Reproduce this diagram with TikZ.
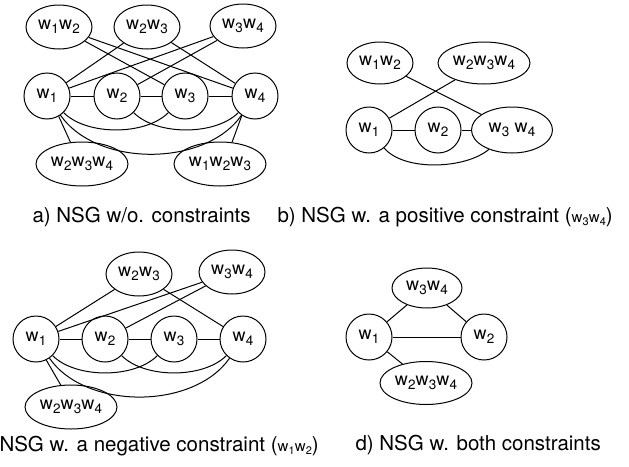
\documentclass[tikz,border=0pt]{standalone}
\usepackage{fontspec}
\setmainfont{TeX Gyre Heros}
\usetikzlibrary{shapes.geometric}
\newcommand{\ww}[1]{w\kern0.3pt\raisebox{-4.5pt}{\fontsize{13.5}{14}\selectfont #1}}
\newcommand{\cw}[1]{w\kern0.2pt\raisebox{-3.5pt}{\fontsize{11}{12}\selectfont #1}}
\begin{document}
\begin{tikzpicture}[x=1pt,y=-1pt,line width=1pt,
  lbl/.style={font=\fontsize{18}{20}\selectfont},
  circ/.style={circle,draw,minimum size=46pt,inner sep=0pt,lbl},
  ell/.style={ellipse,draw,minimum width=66pt,minimum height=44pt,inner sep=0pt,lbl},
  wide/.style={ell,minimum width=92pt},
  captext/.style={anchor=base west,inner sep=0pt,font=\fontsize{20.5}{24}\selectfont}]
\useasboundingbox (0,0) rectangle (629,466);
% ---------- a ----------
\node[ell]  (a12) at (59,27)  {\ww{1}\ww{2}};
\node[ell]  (a23) at (147,27) {\ww{2}\ww{3}};
\node[ell]  (a34) at (243,26) {\ww{3}\ww{4}};
\node[circ] (a1)  at (47,96)  {\ww{1}};
\node[circ] (a2)  at (117,96) {\ww{2}};
\node[circ] (a3)  at (185,96) {\ww{3}};
\node[circ] (a4)  at (255,96) {\ww{4}};
\node[wide] (a234) at (82,164) {\ww{2}\ww{3}\ww{4}};
\node[wide] (a123) at (220,164) {\ww{1}\ww{2}\ww{3}};
\draw (a12) -- (a3);
\draw (a12) -- (a4);
\draw (a23) -- (a1);
\draw (a23) -- (a4);
\draw (a34) -- (a1);
\draw (a34) -- (a2);
\draw (a1) -- (a2);
\draw (a2) -- (a3);
\draw (a3) -- (a4);
\draw (a1) to[out=-45,in=-135,looseness=0.8] (a3);
\draw (a2) to[out=-45,in=-135,looseness=0.8] (a4);
\draw (a1) to[out=-55,in=-125,looseness=0.9] (a4);
\draw (a1.-60) -- (a234.118);
\draw (a4.-124) -- (a123.61);
\node[captext] (capa) at (32,222) {a) NSG w/o. constraints};
% ---------- b ----------
\node[ell,minimum height=42pt]  (b12) at (380,63) {\ww{1}\ww{2}};
\node[wide,minimum height=42pt] (b234) at (484,63) {\ww{2}\ww{3}\ww{4}};
\node[circ] (b1) at (369,130) {\ww{1}};
\node[circ] (b2) at (438,130) {\ww{2}};
\node[ell,minimum width=81pt,minimum height=46pt] (b34) at (512,130) {\ww{3} \ww{4}};
\draw (b12) -- (b34);
\draw (b234) -- (b1);
\draw (b1) -- (b2);
\draw (b2) -- (b34);
\draw (b1) to[out=-50,in=-140,looseness=0.75] (b34);
\node[captext] (capb) at (277,222) {b) NSG w. a positive constraint ({\fontsize{15}{16}\selectfont\cw{3}\cw{4}})};
% ---------- c ----------
\node[ell]  (c23) at (139,274) {\ww{2}\ww{3}};
\node[ell]  (c34) at (232,272) {\ww{3}\ww{4}};
\node[circ] (c1)  at (36,339)  {\ww{1}};
\node[circ] (c2)  at (105,339) {\ww{2}};
\node[circ] (c3)  at (174,339) {\ww{3}};
\node[circ] (c4)  at (243,339) {\ww{4}};
\node[wide] (c234) at (71,407) {\ww{2}\ww{3}\ww{4}};
\draw (c23) -- (c1);
\draw (c23) -- (c4);
\draw (c34) -- (c1);
\draw (c34) -- (c2);
\draw (c1) -- (c2);
\draw (c2) -- (c3);
\draw (c3) -- (c4);
\draw (c1) to[out=-45,in=-135,looseness=0.8] (c3);
\draw (c2) to[out=-45,in=-135,looseness=0.8] (c4);
\draw (c1) to[out=-55,in=-125,looseness=0.9] (c4);
\draw (c1.-64) -- (c234.115);
\node[captext] (capc) at (-1,451) {NSG w. a negative constraint ({\fontsize{15}{16}\selectfont\cw{1}\cw{2}})};
% ---------- d ----------
\node[ell,minimum width=70pt,minimum height=40pt] (d34) at (427,288) {\ww{3}\ww{4}};
\node[circ] (d1) at (369,337) {\ww{1}};
\node[circ] (d2) at (484,337) {\ww{2}};
\node[wide,minimum height=43pt] (d234) at (426,383) {\ww{2}\ww{3}\ww{4}};
\draw (d1) -- (d34);
\draw (d34) -- (d2);
\draw (d1) -- (d2);
\draw (d1) -- (d234);
\node[captext] (capd) at (355,450) {d) NSG w. both constraints};
\end{tikzpicture}
\end{document}
